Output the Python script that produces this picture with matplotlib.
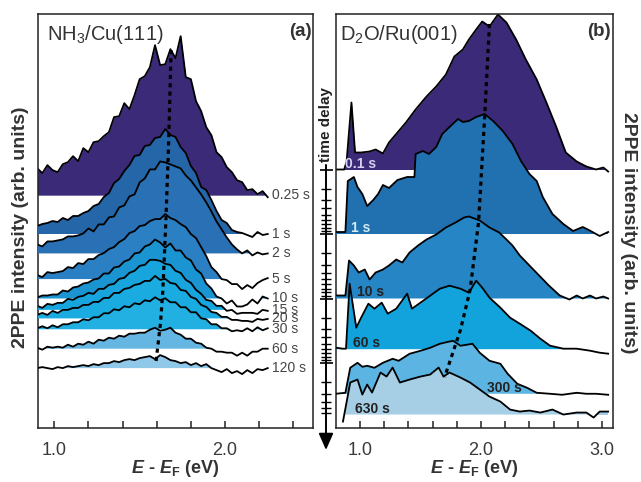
import numpy as np
import matplotlib.pyplot as plt

plt.rcParams['font.family'] = ['Liberation Sans', 'DejaVu Sans']
plt.rcParams['mathtext.fontset'] = 'custom'
plt.rcParams['mathtext.it'] = 'Liberation Sans:italic:bold'
plt.rcParams['mathtext.rm'] = 'Liberation Sans'
plt.rcParams['mathtext.bf'] = 'Liberation Sans:bold'

# ---- panel (a): NH3/Cu(111), spectra on a common energy grid (eV)
E_A = [0.90, 0.93, 0.96, 0.99, 1.02, 1.05, 1.08, 1.11, 1.14, 1.17, 1.20, 1.23,
       1.26, 1.29, 1.32, 1.35, 1.38, 1.41, 1.44, 1.47, 1.50, 1.53, 1.56, 1.59,
       1.62, 1.65, 1.68, 1.71, 1.74, 1.77, 1.80, 1.83, 1.86, 1.89, 1.92, 1.95,
       1.98, 2.01, 2.04, 2.07, 2.10, 2.13, 2.16, 2.19, 2.22, 2.25]
TIMES_A = [0.25, 1, 2, 5, 10, 15, 20, 30, 60, 120]
LABELS_A = ['0.25 s', '1 s', '2 s', '5 s', '10 s', '15 s', '20 s', '30 s', '60 s', '120 s']
I_A_025 = [27, 22, 30, 25, 23, 31, 33, 39, 34, 47, 43, 53, 54, 59, 63, 78, 79, 92, 86, 100,
           116, 119, 128, 150, 130, 131, 146, 137, 159, 118, 116, 94, 84, 68, 60, 43, 38,
           28, 23, 15, 13, 5, 6, 1, 4, -2]
I_A_1 = [8, 10, 11, 13, 12, 16, 14, 18, 18, 21, 23, 28, 30, 37, 41, 51, 55, 63, 69, 78,
         79, 88, 89, 96, 97, 105, 99, 97, 87, 81, 68, 61, 47, 44, 34, 23, 14, 11, 4, 2,
         1, -1, -3, 2, -1, 0]
I_A_2 = [9, 7, 12, 12, 13, 14, 17, 17, 18, 20, 25, 22, 29, 29, 36, 37, 46, 48, 57, 59,
         71, 75, 84, 84, 92, 91, 89, 87, 85, 78, 73, 66, 59, 51, 42, 32, 24, 16, 9, 4,
         0, 3, -2, 1, -1, 0]
I_A_5 = [4, 2, 7, 6, 7, 8, 12, 11, 16, 15, 20, 20, 24, 26, 30, 32, 37, 40, 46, 48,
         53, 54, 58, 60, 60, 65, 61, 59, 55, 52, 45, 41, 32, 23, 12, 7, 0, -1, -5, -5,
         -10, -6, -9, -4, -1, 1]
I_A_10 = [1, 3, 3, 4, 4, 8, 7, 11, 12, 15, 16, 19, 20, 25, 25, 31, 32, 37, 39, 45,
          46, 52, 54, 59, 56, 51, 55, 48, 48, 41, 38, 29, 25, 15, 10, 2, 0, -5, -2, -8,
          -8, -6, -1, -5, 2, 0]
I_A_15 = [4, 2, 6, 5, 7, 7, 11, 10, 13, 14, 17, 16, 21, 21, 25, 26, 31, 32, 37, 39,
          44, 45, 50, 50, 49, 46, 45, 39, 37, 30, 27, 20, 16, 10, 9, 4, 4, -1, 0, -4,
          -3, -3, -3, -4, 0, -1]
I_A_20 = [3, 5, 3, 7, 5, 8, 8, 10, 10, 13, 13, 16, 16, 20, 20, 25, 25, 29, 30, 33,
          34, 37, 37, 42, 38, 39, 35, 34, 28, 27, 21, 19, 13, 11, 6, 5, 1, 1, -2, -2,
          -3, -3, -4, -1, -2, -1]
I_A_30 = [1, 3, 1, 4, 2, 5, 5, 7, 7, 10, 9, 12, 12, 16, 16, 20, 19, 23, 22, 26,
          25, 29, 28, 32, 29, 31, 27, 27, 22, 22, 17, 17, 11, 10, 5, 5, 1, 1, -2, -1,
          -2, 1, -2, 2, -1, 1]
I_A_60 = [1, -1, 2, 1, 2, 1, 4, 2, 5, 4, 7, 5, 9, 8, 11, 10, 13, 12, 15, 15,
          16, 16, 19, 21, 18, 19, 21, 16, 14, 10, 10, 6, 5, 1, 0, -3, -3, -4, -4, -7,
          -4, -7, -3, -3, 0, 0]
I_A_120 = [0, 1, 0, -1, 1, 0, 2, 1, 2, 3, 2, 4, 3, 5, 5, 7, 6, 8, 9, 8,
           10, 11, 12, 9, 13, 11, 8, 7, 5, 6, 3, 5, 2, 4, 0, -2, -4, -1, -5, -3,
           -6, -2, -5, -1, -2, 0]
SPEC_A = [I_A_025, I_A_1, I_A_2, I_A_5, I_A_10, I_A_15, I_A_20, I_A_30, I_A_60, I_A_120]
DOT_A_E = [1.684, 1.669, 1.653, 1.636, 1.622, 1.595]
DOT_A_Y = [378, 281, 205, 138, 105, 65]

# ---- panel (b): D2O/Ru(001)
TIMES_B = [0.1, 1, 10, 60, 300, 630]
LABELS_B = ['0.1 s', '1 s', '10 s', '60 s', '300 s', '630 s']
E_B_01 = [0.80, 0.87, 0.89, 0.93, 0.96, 1.01, 1.08, 1.13, 1.19, 1.24, 1.31, 1.38,
          1.46, 1.55, 1.63, 1.71, 1.78, 1.85, 1.90, 1.96, 2.01, 2.07, 2.14, 2.21,
          2.29, 2.37, 2.46, 2.54, 2.62, 2.70, 2.79, 2.87, 2.95, 3.01, 3.05]
I_B_01 = [0, 0, 8, 67, 17, 17, 18, 20, 16, 27, 37, 47, 60, 73, 83, 95, 113, 120, 130,
          140, 148, 143, 155, 147, 130, 110, 90, 67, 43, 17, 8, 3, 0, 2, -2]
E_B_1 = [0.80, 0.88, 0.90, 0.95, 0.98, 1.02, 1.06, 1.11, 1.15, 1.19, 1.24, 1.31, 1.39,
         1.45, 1.46, 1.52, 1.57, 1.63, 1.68, 1.74, 1.81, 1.85, 1.90, 1.96, 2.03, 2.10,
         2.18, 2.26, 2.33, 2.40, 2.46, 2.51, 2.59, 2.68, 2.76, 2.84, 2.89, 2.98, 3.05]
I_B_1 = [2, 2, 53, 57, 47, 40, 28, 34, 40, 49, 46, 54, 57, 57, 80, 83, 80, 87, 100,
         107, 115, 112, 113, 117, 120, 113, 103, 90, 73, 60, 53, 37, 20, 10, 3, 7, 4, -2, 2]
E_B_10 = [0.80, 0.88, 0.91, 0.95, 0.99, 1.04, 1.08, 1.13, 1.19, 1.24, 1.30, 1.35, 1.41,
          1.48, 1.55, 1.63, 1.71, 1.79, 1.86, 1.90, 1.99, 2.07, 2.15, 2.21, 2.26, 2.32,
          2.40, 2.48, 2.56, 2.65, 2.73, 2.79, 2.84, 2.90, 2.95, 3.01, 3.05]
I_B_10 = [3, 3, 38, 33, 26, 29, 19, 26, 29, 33, 39, 36, 46, 53, 59, 64, 71, 76, 81, 82,
          78, 71, 66, 59, 53, 43, 33, 23, 13, 3, -1, 3, 0, 3, 0, 2, 0]
E_B_60 = [0.80, 0.86, 0.885, 0.915, 0.97, 1.01, 1.07, 1.12, 1.18, 1.23, 1.30, 1.39, 1.43,
          1.50, 1.58, 1.66, 1.74, 1.83, 1.90, 1.96, 2.01, 2.07, 2.16, 2.24, 2.32, 2.41,
          2.49, 2.57, 2.68, 2.79, 2.90, 2.98, 3.05]
I_B_60 = [1, 0, 0, 65, 21, 31, 45, 40, 46, 35, 40, 55, 40, 46, 53, 60, 63, 60, 56, 68,
          61, 51, 41, 31, 25, 18, 10, 3, 0, 0, -2, -4, -5]
E_B_300 = [0.80, 0.88, 0.92, 0.98, 1.02, 1.06, 1.12, 1.19, 1.27, 1.32, 1.41, 1.50, 1.58,
           1.66, 1.73, 1.77, 1.83, 1.93, 1.99, 2.07, 2.16, 2.22, 2.30, 2.38, 2.46, 2.57,
           2.67, 2.79, 2.87, 2.95, 3.05]
I_B_300 = [0, 1, 26, 31, 27, 28, 26, 31, 35, 33, 40, 43, 46, 50, 52, 53, 48, 50, 41, 33,
           30, 20, 10, 6, 1, 0, -1, 1, 0, 0, -1]
E_B_630 = [0.86, 0.92, 0.98, 1.02, 1.06, 1.10, 1.17, 1.22, 1.27, 1.33, 1.41, 1.50, 1.58,
           1.65, 1.69, 1.74, 1.83, 1.91, 1.99, 2.07, 2.16, 2.24, 2.32, 2.40, 2.49, 2.59,
           2.68, 2.79, 2.87, 2.93, 2.98, 3.05]
I_B_630 = [-7, 32, 35, 20, 30, 22, 42, 38, 47, 32, 35, 38, 40, 47, 38, 42, 37, 32, 25, 18,
           13, 5, 3, 4, 2, 5, 0, 2, 2, -3, 3, 3]
SPEC_B = [(E_B_01, I_B_01), (E_B_1, I_B_1), (E_B_10, I_B_10),
          (E_B_60, I_B_60), (E_B_300, I_B_300), (E_B_630, I_B_630)]
DOT_B_E = [2.07, 2.03, 1.98, 1.91, 1.83, 1.70]
DOT_B_Y = [404, 311, 206, 138, 98, 51]

# time delay axis (log scale, shared by both panels)
MAJOR_T = [0.1, 1, 10, 100]
MINOR_T = [k * 10.0 ** n for n in range(-1, 3) for k in range(2, 10) if k * 10.0 ** n <= 600]

# styles
COLORS_A = ['#3b2a78', '#2566a8', '#2a70b4', '#2a80c2', '#1b94d2', '#18a4dc',
            '#1aabe0', '#22b0e3', '#66b6e3', '#90c8ea']
COLORS_B = ['#3b2a78', '#2170b0', '#2585c5', '#12a2dc', '#5cb4e2', '#a6cfe6']
LABEL_COLORS_B = ['#d6d0f0', '#d2ecf8', '#222222', '#222222', '#222222', '#222222']
LABEL_E_B = [0.876, 0.926, 0.975, 0.942, 2.05, 0.959]
TXT = '#333333'

Y0, DECADE, HEIGHT = 258.5, 64.5, 414.0


def baseline(t):
    return Y0 - DECADE * np.log10(t / 0.1)


fig = plt.figure(figsize=(6.41, 4.82), dpi=100)
axa = fig.add_axes([37.7 / 641, 54 / 482, 275.3 / 641, 414 / 482])
axb = fig.add_axes([335.7 / 641, 54 / 482, 277.3 / 641, 414 / 482])


def stack(ax, e, inten, t, color, z):
    e = np.asarray(e)
    y = baseline(t) + np.asarray(inten, dtype=float)
    b = baseline(t)
    ax.fill_between(e, b, y, where=y >= b, interpolate=True, color=color, lw=0, zorder=z)
    ax.plot(e, y, color='k', lw=1.3, zorder=z + 0.5)


for i, (t, inten) in enumerate(zip(TIMES_A, SPEC_A)):
    stack(axa, E_A, inten, t, COLORS_A[i], 2 + i)
    axa.text(2.273, baseline(t), LABELS_A[i], fontsize=10, color='#444444',
             va='center', ha='left', zorder=30)
axa.plot(DOT_A_E, DOT_A_Y, color='k', lw=2.3, ls=(0, (1.3, 1.3)), zorder=40,
         dash_capstyle='butt')

for i, (t, (e, inten)) in enumerate(zip(TIMES_B, SPEC_B)):
    stack(axb, e, inten, t, COLORS_B[i], 2 + i)
    axb.text(LABEL_E_B[i], baseline(t) + 2, LABELS_B[i], fontsize=10, fontweight='bold',
             color=LABEL_COLORS_B[i], va='baseline', ha='left', zorder=30)
axb.plot(DOT_B_E, DOT_B_Y, color='k', lw=2.3, ls=(0, (1.3, 1.3)), zorder=40,
         dash_capstyle='butt')

for ax, lim, ticks, labs in [
        (axa, (0.903, 2.515), [1.0, 1.2, 1.4, 1.6, 1.8, 2.0, 2.2, 2.4],
         ['1.0', '', '', '', '', '2.0', '', '']),
        (axb, (0.80, 3.09), [1.0, 1.2, 1.4, 1.6, 1.8, 2.0, 2.2, 2.4, 2.6, 2.8, 3.0],
         ['1.0', '', '', '', '', '2.0', '', '', '', '', '3.0'])]:
    ax.set_xlim(*lim)
    ax.set_ylim(0, HEIGHT)
    ax.set_xticks(ticks, labs)
    ax.set_yticks([])
    ax.tick_params(axis='x', direction='in', length=5, width=1.1, pad=10,
                   labelsize=13, labelcolor='#3a3a3a', color='#222222')
    for s in ax.spines.values():
        s.set_linewidth(1.1)
        s.set_color('#222222')
    ax.set_xlabel(r'$E$ - $E_\mathregular{F}$ (eV)', fontsize=13, fontweight='bold', color=TXT)
    ax.xaxis.set_label_coords(0.5, -0.072)

axa.text(0.034, 0.979, r'NH$_\mathregular{3}$/Cu(111)', transform=axa.transAxes,
         fontsize=14.5, va='top', ha='left', color=TXT)
axa.text(0.995, 0.979, '(a)', transform=axa.transAxes, fontsize=13.5,
         fontweight='bold', va='top', ha='right', color=TXT)
axb.text(0.016, 0.979, r'D$_\mathregular{2}$O/Ru(001)', transform=axb.transAxes,
         fontsize=14.5, va='top', ha='left', color=TXT)
axb.text(0.993, 0.979, '(b)', transform=axb.transAxes, fontsize=13.5,
         fontweight='bold', va='top', ha='right', color=TXT)

# time delay arrow between the panels
axt = fig.add_axes([316 / 641, 54 / 482, 20 / 641, 414 / 482])
axt.set_yscale('log')
axt.set_ylim(0.1 * 10 ** (Y0 / DECADE), 0.1 * 10 ** ((Y0 - HEIGHT) / DECADE))
axt.set_xlim(-1, 1)
axt.axis('off')
axt.hlines(MAJOR_T, -0.65, 0.65, color='k', lw=1.2)
axt.hlines(MINOR_T, -0.5, 0.5, color='k', lw=1.0)
axt.annotate('', xy=(0, 0.1 * 10 ** ((Y0 + 22) / DECADE)), xytext=(0, 0.085),
             arrowprops=dict(arrowstyle='-|>,head_length=0.5,head_width=0.22',
                             mutation_scale=20, lw=1.4, color='k',
                             shrinkA=0, shrinkB=0),
             annotation_clip=False)
fig.text(326 / 641, 1 - 125 / 482, 'time delay', rotation=90, fontsize=11,
         fontweight='bold', ha='center', va='center', color='#222222')

fig.text(21 / 641, 1 - 227 / 482, '2PPE intensity (arb. units)', rotation=90,
         fontsize=14, fontweight='bold', ha='center', va='center', color=TXT)
fig.text(628 / 641, 1 - 233 / 482, '2PPE intensity (arb. units)', rotation=-90,
         fontsize=14, fontweight='bold', ha='center', va='center', color=TXT)

fig.savefig('out.png', dpi=100)
